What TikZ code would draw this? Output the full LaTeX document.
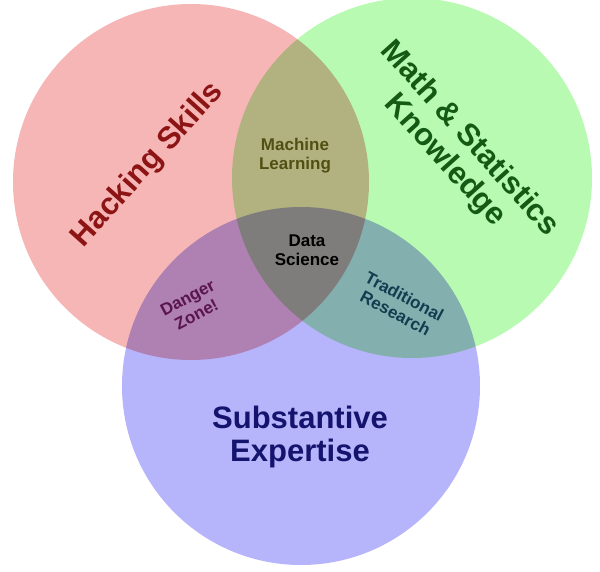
\documentclass[tikz,border=0pt]{standalone}
\usepackage{fontspec}
\setmainfont{Liberation Sans}
\begin{document}
\begin{tikzpicture}[x=1pt,y=-1pt,
  big/.style={font=\bfseries\fontsize{31}{33}\selectfont,align=center},
  small/.style={font=\bfseries\fontsize{17}{19}\selectfont,align=center}]
\useasboundingbox (0,0) rectangle (600,572);
\begin{scope}[blend group=multiply]
\fill[fill={rgb,255:red,246;green,182;blue,182}] (191,182) circle (178);
\fill[fill={rgb,255:red,184;green,250;blue,178}] (412,178) circle (180);
\fill[fill={rgb,255:red,182;green,180;blue,250}] (301,386) circle (179);
\end{scope}
\node[big,rotate=48,text={rgb,255:red,140;green,20;blue,20}] (hs) at (148,165) {Hacking Skills};
\node[big,rotate=-48,text={rgb,255:red,20;green,90;blue,20}] (ms) at (457,150) {Math \& Statistics\\Knowledge};
\node[big,text={rgb,255:red,20;green,20;blue,110}] (se) at (300,437) {Substantive\\Expertise};
\node[small,text={rgb,255:red,80;green,80;blue,20}] (ml) at (295,156) {Machine\\Learning};
\node[small,text=black] (ds) at (307,250) {Data\\Science};
\node[small,rotate=28,text={rgb,255:red,90;green,20;blue,80}] (dz) at (192,306) {Danger\\Zone!};
\node[small,rotate=-28,text={rgb,255:red,20;green,60;blue,80}] (tr) at (400,305) {Traditional\\Research};
\end{tikzpicture}
\end{document}
